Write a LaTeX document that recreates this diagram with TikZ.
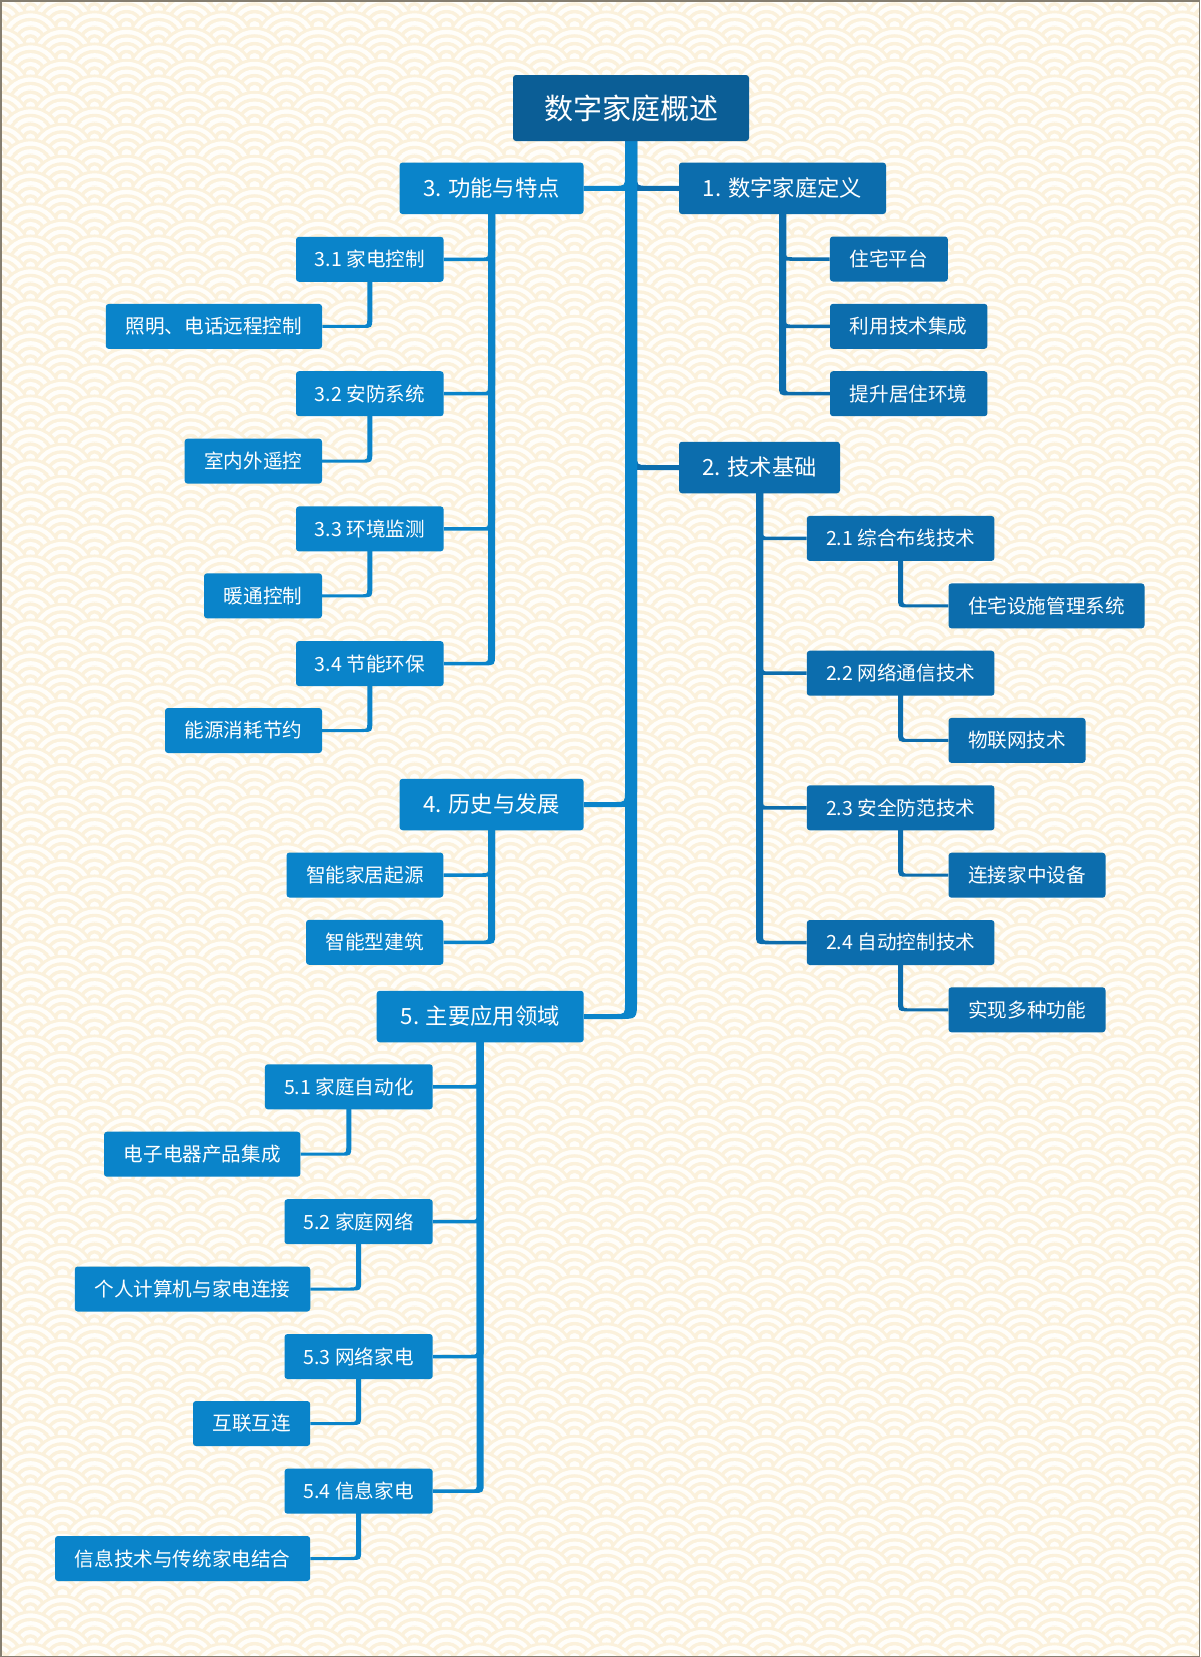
\documentclass[tikz,border=0pt]{standalone}
\usepackage{fontspec}
\setmainfont{Noto Sans CJK SC}
\usetikzlibrary{calc,backgrounds,patterns}

\definecolor{rootc}{HTML}{0B5E96}
\definecolor{darkc}{HTML}{0C6DAD}
\definecolor{lightc}{HTML}{0A84CA}
\definecolor{creamc}{HTML}{FBF1DC}
\definecolor{whitec}{HTML}{FFFEFA}
\definecolor{framec}{HTML}{857E70}

\newcommand\sgmotif[2]{%
  \pgfsetfillcolor{creamc}\pgfpathcircle{\pgfpoint{#1pt}{#2pt}}{32pt}\pgfusepath{fill}%
  \pgfsetfillcolor{whitec}\pgfpathcircle{\pgfpoint{#1pt}{#2pt}}{29pt}\pgfusepath{fill}%
  \pgfsetfillcolor{creamc}\pgfpathcircle{\pgfpoint{#1pt}{#2pt}}{24.5pt}\pgfusepath{fill}%
  \pgfsetfillcolor{whitec}\pgfpathcircle{\pgfpoint{#1pt}{#2pt}}{21pt}\pgfusepath{fill}%
  \pgfsetfillcolor{creamc}\pgfpathcircle{\pgfpoint{#1pt}{#2pt}}{16.5pt}\pgfusepath{fill}%
  \pgfsetfillcolor{whitec}\pgfpathcircle{\pgfpoint{#1pt}{#2pt}}{13pt}\pgfusepath{fill}%
  \pgfsetfillcolor{creamc}\pgfpathcircle{\pgfpoint{#1pt}{#2pt}}{8.5pt}\pgfusepath{fill}%
  \pgfsetfillcolor{whitec}\pgfpathcircle{\pgfpoint{#1pt}{#2pt}}{5pt}\pgfusepath{fill}%
}
\pgfdeclarepatterninherentlycolored{seigaiha}{\pgfpointorigin}{\pgfpoint{64pt}{32pt}}{\pgfpoint{64pt}{32pt}}{%
  \sgmotif{-32}{48}\sgmotif{32}{48}\sgmotif{96}{48}%
  \sgmotif{0}{32}\sgmotif{64}{32}%
  \sgmotif{-32}{16}\sgmotif{32}{16}\sgmotif{96}{16}%
  \sgmotif{0}{0}\sgmotif{64}{0}%
  \sgmotif{-32}{-16}\sgmotif{32}{-16}\sgmotif{96}{-16}%
}

% tapered elbow connector: color, parent, child anchor, w1, w2, inner radius
\newcommand\tconn[6]{%
  \fill[#1] let \p1=(#2), \p2=(#3), \n1={sign(\x2-\x1)}, \n2={#4/2}, \n3={#5/2},
      \n4={#6}, \n5={#6+#4/2+#5/2} in
    (\x1-\n1*\n2, \y1) -- (\x1-\n1*\n2, \y2-\n3+\n5)
    .. controls (\x1-\n1*\n2, \y2-\n3) .. (\x1-\n1*\n2+\n1*\n5, \y2-\n3)
    -- (\x2, \y2-\n3) -- (\x2, \y2+\n3)
    -- (\x1+\n1*\n2+\n1*\n4, \y2+\n3)
    .. controls (\x1+\n1*\n2, \y2+\n3) .. (\x1+\n1*\n2, \y2+\n3+\n4)
    -- (\x1+\n1*\n2, \y1) -- cycle;
}

\tikzset{
  box/.style={rounded corners=3pt, inner sep=0pt, text=white, align=center},
  rootbox/.style={box, fill=rootc, minimum width=236pt, minimum height=66pt,
    font=\fontsize{29pt}{34pt}\selectfont},
  lone/.style={box, minimum height=51.5pt, font=\fontsize{22.3pt}{26pt}\selectfont},
  ltwo/.style={box, minimum height=45pt, font=\fontsize{19.6pt}{23pt}\selectfont},
}

\begin{document}
\begin{tikzpicture}[x=1pt, y=-1pt]
\useasboundingbox (0,0) rectangle (1200,1657);

% nodes
\node[rootbox] (root) at (631,108) {数字家庭概述};

\node[lone, fill=darkc, minimum width=207pt] (n1) at (782.5,188.3) {1. 数字家庭定义};
\node[lone, fill=darkc, minimum width=161pt] (n2) at (759.5,467.5) {2. 技术基础};
\node[lone, fill=lightc, minimum width=184pt] (n3) at (491.5,188.3) {3. 功能与特点};
\node[lone, fill=lightc, minimum width=184pt] (n4) at (491.6,804.5) {4. 历史与发展};
\node[lone, fill=lightc, minimum width=207pt] (n5) at (480.2,1016.5) {5. 主要应用领域};

\node[ltwo, fill=darkc, minimum width=118pt] (n11) at (888.9,259) {住宅平台};
\node[ltwo, fill=darkc, minimum width=157.4pt] (n12) at (908.7,326.3) {利用技术集成};
\node[ltwo, fill=darkc, minimum width=157.4pt] (n13) at (908.7,393.7) {提升居住环境};

\node[ltwo, fill=darkc, minimum width=187.6pt] (n21) at (900.6,538.4) {2.1 综合布线技术};
\node[ltwo, fill=darkc, minimum width=196pt] (n211) at (1046.5,605.9) {住宅设施管理系统};
\node[ltwo, fill=darkc, minimum width=187.6pt] (n22) at (900.6,673.2) {2.2 网络通信技术};
\node[ltwo, fill=darkc, minimum width=137pt] (n221) at (1017,740.4) {物联网技术};
\node[ltwo, fill=darkc, minimum width=187.6pt] (n23) at (900.6,807.8) {2.3 安全防范技术};
\node[ltwo, fill=darkc, minimum width=157pt] (n231) at (1027,875.2) {连接家中设备};
\node[ltwo, fill=darkc, minimum width=187.6pt] (n24) at (900.6,942.5) {2.4 自动控制技术};
\node[ltwo, fill=darkc, minimum width=157pt] (n241) at (1027,1009.8) {实现多种功能};

\node[ltwo, fill=lightc, minimum width=147.6pt] (n31) at (369.8,259.3) {3.1 家电控制};
\node[ltwo, fill=lightc, minimum width=216.3pt] (n311) at (213.9,326.4) {照明、电话远程控制};
\node[ltwo, fill=lightc, minimum width=147.6pt] (n32) at (369.8,393.7) {3.2 安防系统};
\node[ltwo, fill=lightc, minimum width=137.4pt] (n321) at (253.3,461.1) {室内外遥控};
\node[ltwo, fill=lightc, minimum width=147.6pt] (n33) at (369.8,528.9) {3.3 环境监测};
\node[ltwo, fill=lightc, minimum width=118pt] (n331) at (263,595.8) {暖通控制};
\node[ltwo, fill=lightc, minimum width=147.6pt] (n34) at (369.8,663.6) {3.4 节能环保};
\node[ltwo, fill=lightc, minimum width=157pt] (n341) at (243.5,730.5) {能源消耗节约};

\node[ltwo, fill=lightc, minimum width=156.8pt] (n41) at (364.9,875) {智能家居起源};
\node[ltwo, fill=lightc, minimum width=137.3pt] (n42) at (374.7,942.3) {智能型建筑};

\node[ltwo, fill=lightc, minimum width=167.8pt] (n51) at (348.8,1086.8) {5.1 家庭自动化};
\node[ltwo, fill=lightc, minimum width=196.4pt] (n511) at (202.2,1154.2) {电子电器产品集成};
\node[ltwo, fill=lightc, minimum width=148.2pt] (n52) at (358.6,1221.7) {5.2 家庭网络};
\node[ltwo, fill=lightc, minimum width=235.5pt] (n521) at (192.5,1289) {个人计算机与家电连接};
\node[ltwo, fill=lightc, minimum width=148.2pt] (n53) at (358.6,1356.5) {5.3 网络家电};
\node[ltwo, fill=lightc, minimum width=117.2pt] (n531) at (251.6,1423.5) {互联互连};
\node[ltwo, fill=lightc, minimum width=148.2pt] (n54) at (358.6,1491.2) {5.4 信息家电};
\node[ltwo, fill=lightc, minimum width=255.2pt] (n541) at (182.6,1558.5) {信息技术与传统家电结合};

\begin{pgfonlayer}{background}
  \fill[creamc] (0,0) rectangle (1200,1657);
  \fill[pattern=seigaiha] (0,0) rectangle (1200,1657);

  % root connectors
  \tconn{darkc}{root.center}{n1.west}{12}{5}{10}
  \tconn{darkc}{root.center}{n2.west}{12}{5}{10}
  \tconn{lightc}{root.center}{n3.east}{12}{5}{10}
  \tconn{lightc}{root.center}{n4.east}{12}{5}{10}
  \tconn{lightc}{root.center}{n5.east}{12}{5}{10}

  % branch 1
  \tconn{darkc}{n1.center}{n11.west}{7}{3.5}{6}
  \tconn{darkc}{n1.center}{n12.west}{7}{3.5}{6}
  \tconn{darkc}{n1.center}{n13.west}{7}{3.5}{6}
  % branch 2
  \tconn{darkc}{n2.center}{n21.west}{7}{3.5}{6}
  \tconn{darkc}{n2.center}{n22.west}{7}{3.5}{6}
  \tconn{darkc}{n2.center}{n23.west}{7}{3.5}{6}
  \tconn{darkc}{n2.center}{n24.west}{7}{3.5}{6}
  \tconn{darkc}{n21.center}{n211.west}{5}{3}{6}
  \tconn{darkc}{n22.center}{n221.west}{5}{3}{6}
  \tconn{darkc}{n23.center}{n231.west}{5}{3}{6}
  \tconn{darkc}{n24.center}{n241.west}{5}{3}{6}
  % branch 3
  \tconn{lightc}{n3.center}{n31.east}{7}{3.5}{6}
  \tconn{lightc}{n3.center}{n32.east}{7}{3.5}{6}
  \tconn{lightc}{n3.center}{n33.east}{7}{3.5}{6}
  \tconn{lightc}{n3.center}{n34.east}{7}{3.5}{6}
  \tconn{lightc}{n31.center}{n311.east}{5}{3}{6}
  \tconn{lightc}{n32.center}{n321.east}{5}{3}{6}
  \tconn{lightc}{n33.center}{n331.east}{5}{3}{6}
  \tconn{lightc}{n34.center}{n341.east}{5}{3}{6}
  % branch 4
  \tconn{lightc}{n4.center}{n41.east}{7}{3.5}{6}
  \tconn{lightc}{n4.center}{n42.east}{7}{3.5}{6}
  % branch 5
  \tconn{lightc}{n5.center}{n51.east}{7}{3.5}{6}
  \tconn{lightc}{n5.center}{n52.east}{7}{3.5}{6}
  \tconn{lightc}{n5.center}{n53.east}{7}{3.5}{6}
  \tconn{lightc}{n5.center}{n54.east}{7}{3.5}{6}
  \tconn{lightc}{n51.center}{n511.east}{5}{3}{6}
  \tconn{lightc}{n52.center}{n521.east}{5}{3}{6}
  \tconn{lightc}{n53.center}{n531.east}{5}{3}{6}
  \tconn{lightc}{n54.center}{n541.east}{5}{3}{6}
\end{pgfonlayer}

\draw[framec, line width=1.5pt] (0.75,0.75) rectangle (1199.25,1656.25);
\end{tikzpicture}
\end{document}
